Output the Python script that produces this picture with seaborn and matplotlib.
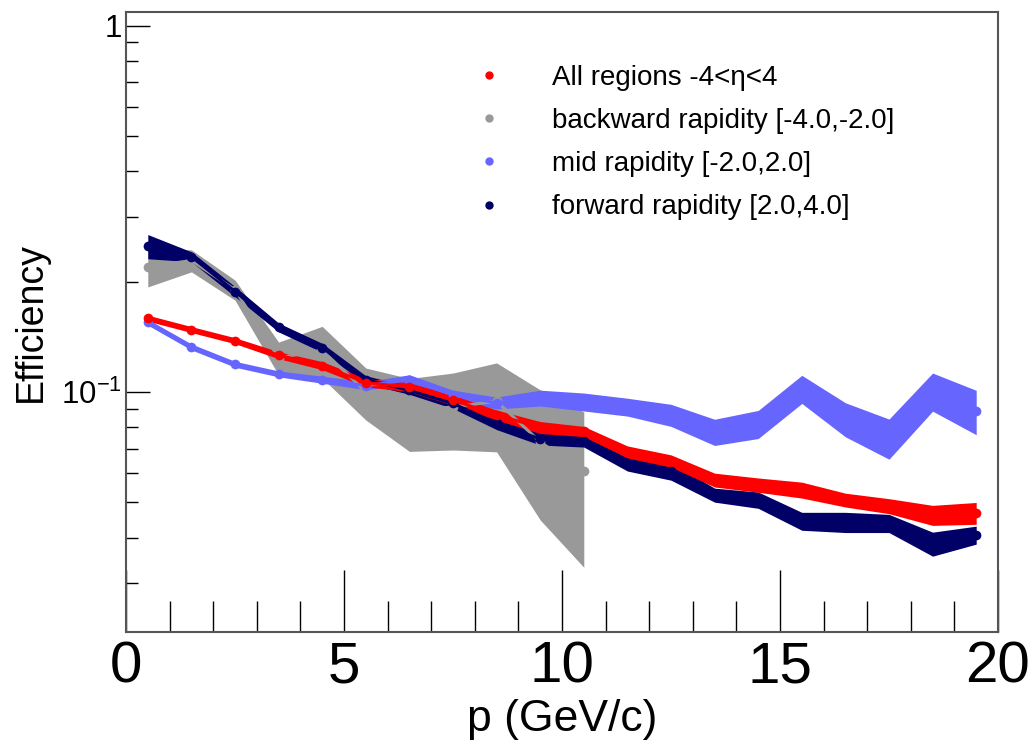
import numpy as np
import matplotlib
matplotlib.use("Agg")
import matplotlib.pyplot as plt
from matplotlib.lines import Line2D
from matplotlib.ticker import LogLocator, FixedLocator, MultipleLocator, NullFormatter, FixedFormatter
import seaborn as sns

# ---- data ----
p = [0.5, 1.5, 2.5, 3.5, 4.5, 5.5, 6.5, 7.5, 8.5, 9.5,
     10.5, 11.5, 12.5, 13.5, 14.5, 15.5, 16.5, 17.5, 18.5, 19.5]

eff_all = [0.159, 0.148, 0.138, 0.126, 0.118, 0.106, 0.103, 0.095, 0.0865, 0.080,
           0.078, 0.0686, 0.0648, 0.0575, 0.0557, 0.054, 0.0507, 0.0488, 0.0461, 0.0467]
err_all = [0.003, 0.0028, 0.0026, 0.0028, 0.003, 0.0027, 0.0029, 0.003, 0.0027, 0.003,
           0.0025, 0.0026, 0.0025, 0.0025, 0.0025, 0.0027, 0.0022, 0.0023, 0.0029, 0.0032]

p_bwd = [0.5, 1.5, 2.5, 3.5, 4.5, 5.5, 6.5, 7.5, 8.5, 9.5, 10.5]
eff_bwd = [0.2195, 0.2285, 0.190, 0.124, 0.130, 0.100, 0.0888, 0.091, 0.0943, 0.073, 0.0607]
err_bwd = [0.026, 0.0158, 0.012, 0.0128, 0.021, 0.0162, 0.020, 0.0216, 0.0257, 0.0283, 0.0275]

eff_mid = [0.155, 0.1327, 0.119, 0.112, 0.108, 0.104, 0.108, 0.098, 0.0933, 0.0963,
           0.094, 0.091, 0.0865, 0.0778, 0.0818, 0.102, 0.0844, 0.0749, 0.1006, 0.0887]
err_mid = [0.0029, 0.0025, 0.0022, 0.0021, 0.0024, 0.0026, 0.0034, 0.0031, 0.0035, 0.0048,
           0.0053, 0.0051, 0.006, 0.0064, 0.0072, 0.009, 0.009, 0.0094, 0.012, 0.0123]

eff_fwd = [0.250, 0.234, 0.188, 0.150, 0.132, 0.108, 0.101, 0.093, 0.082, 0.0744,
           0.0735, 0.064, 0.0608, 0.0523, 0.0507, 0.0444, 0.0441, 0.0438, 0.0385, 0.0407]
err_fwd = [0.019, 0.0073, 0.0059, 0.0042, 0.0037, 0.0027, 0.0025, 0.0029, 0.0031, 0.0028,
           0.0028, 0.0032, 0.0034, 0.0023, 0.0026, 0.0025, 0.0028, 0.0025, 0.0029, 0.0023]

labels = ["All regions -4<\u03b7<4", "backward rapidity [-4.0,-2.0]",
          "mid rapidity [-2.0,2.0]", "forward rapidity [2.0,4.0]"]
colors = ["#ff0000", "#999999", "#6666ff", "#000066"]

x_ticks = [0, 5, 10, 15, 20]
y_ticks = [0.1, 1.0]
y_ticklabels = [r"$\mathregular{10^{-1}}$", "1"]

# ---- style ----
sns.set_theme(style="white")
plt.rcParams["font.family"] = ["Liberation Sans", "DejaVu Sans"]
plt.rcParams["mathtext.fontset"] = "custom"
plt.rcParams["mathtext.rm"] = "Liberation Sans"
plt.rcParams["text.color"] = "black"
plt.rcParams["axes.labelcolor"] = "black"
plt.rcParams["xtick.color"] = "black"
plt.rcParams["ytick.color"] = "black"

fig = plt.figure(figsize=(10.33, 7.47), dpi=100)
ax = fig.add_axes([126 / 1033, 1 - 632 / 747, 872 / 1033, 620 / 747])

series = [
    (p_bwd, eff_bwd, err_bwd, colors[1]),
    (p, eff_fwd, err_fwd, colors[3]),
    (p, eff_mid, err_mid, colors[2]),
    (p, eff_all, err_all, colors[0]),
]
for xs, ys, es, c in series:
    ys_a = np.asarray(ys)
    es_a = np.asarray(es)
    ax.fill_between(xs, ys_a - es_a, ys_a + es_a, color=c, linewidth=0, zorder=2)
    sns.lineplot(x=xs, y=ys, ax=ax, color=c, linewidth=2.2, marker="o",
                 markersize=7, markeredgewidth=0, legend=False, zorder=3)

ax.set_yscale("log")
ax.set_xlim(0, 20)
ax.set_ylim(0.0221, 1.09)

ax.xaxis.set_major_locator(FixedLocator(x_ticks))
ax.xaxis.set_major_formatter(FixedFormatter([str(v) for v in x_ticks]))
ax.xaxis.set_minor_locator(MultipleLocator(1))
ax.yaxis.set_major_locator(FixedLocator(y_ticks))
ax.yaxis.set_major_formatter(FixedFormatter(y_ticklabels))
ax.yaxis.set_minor_locator(LogLocator(base=10, subs=np.arange(2, 10)))
ax.yaxis.set_minor_formatter(NullFormatter())

ax.tick_params(which="both", bottom=True, left=True, top=False, right=False)
ax.tick_params(axis="x", which="major", direction="in", length=45, width=1.0,
               color="black", labelcolor="black", labelsize=42, pad=6)
ax.tick_params(axis="x", which="minor", direction="in", length=22, width=1.0, color="black")
ax.tick_params(axis="y", which="major", direction="in", length=17, width=1.0,
               color="black", labelcolor="black", labelsize=22.5, pad=3)
ax.tick_params(axis="y", which="minor", direction="in", length=8.5, width=1.0, color="black")

for s in ax.spines.values():
    s.set_color("#555555")
    s.set_linewidth(1.5)

ax.set_xlabel("p (GeV/c)", fontsize=32, labelpad=3, color="black")
ax.set_ylabel("Efficiency", fontsize=27, color="black")
ax.yaxis.set_label_coords(-0.088, 0.5)

handles = [Line2D([], [], color=c, marker="o", linestyle="none", markersize=6,
                  markeredgewidth=0) for c in colors]
leg = ax.legend(handles, labels, loc="upper left", bbox_to_anchor=(0.385, 0.915),
                frameon=False, fontsize=20, handlelength=2.0, handletextpad=1.25,
                labelspacing=0.62, borderpad=0, borderaxespad=0)
for t in leg.get_texts():
    t.set_color("black")

fig.patch.set_facecolor("white")
fig.savefig("out.png", dpi=100, facecolor="white")
